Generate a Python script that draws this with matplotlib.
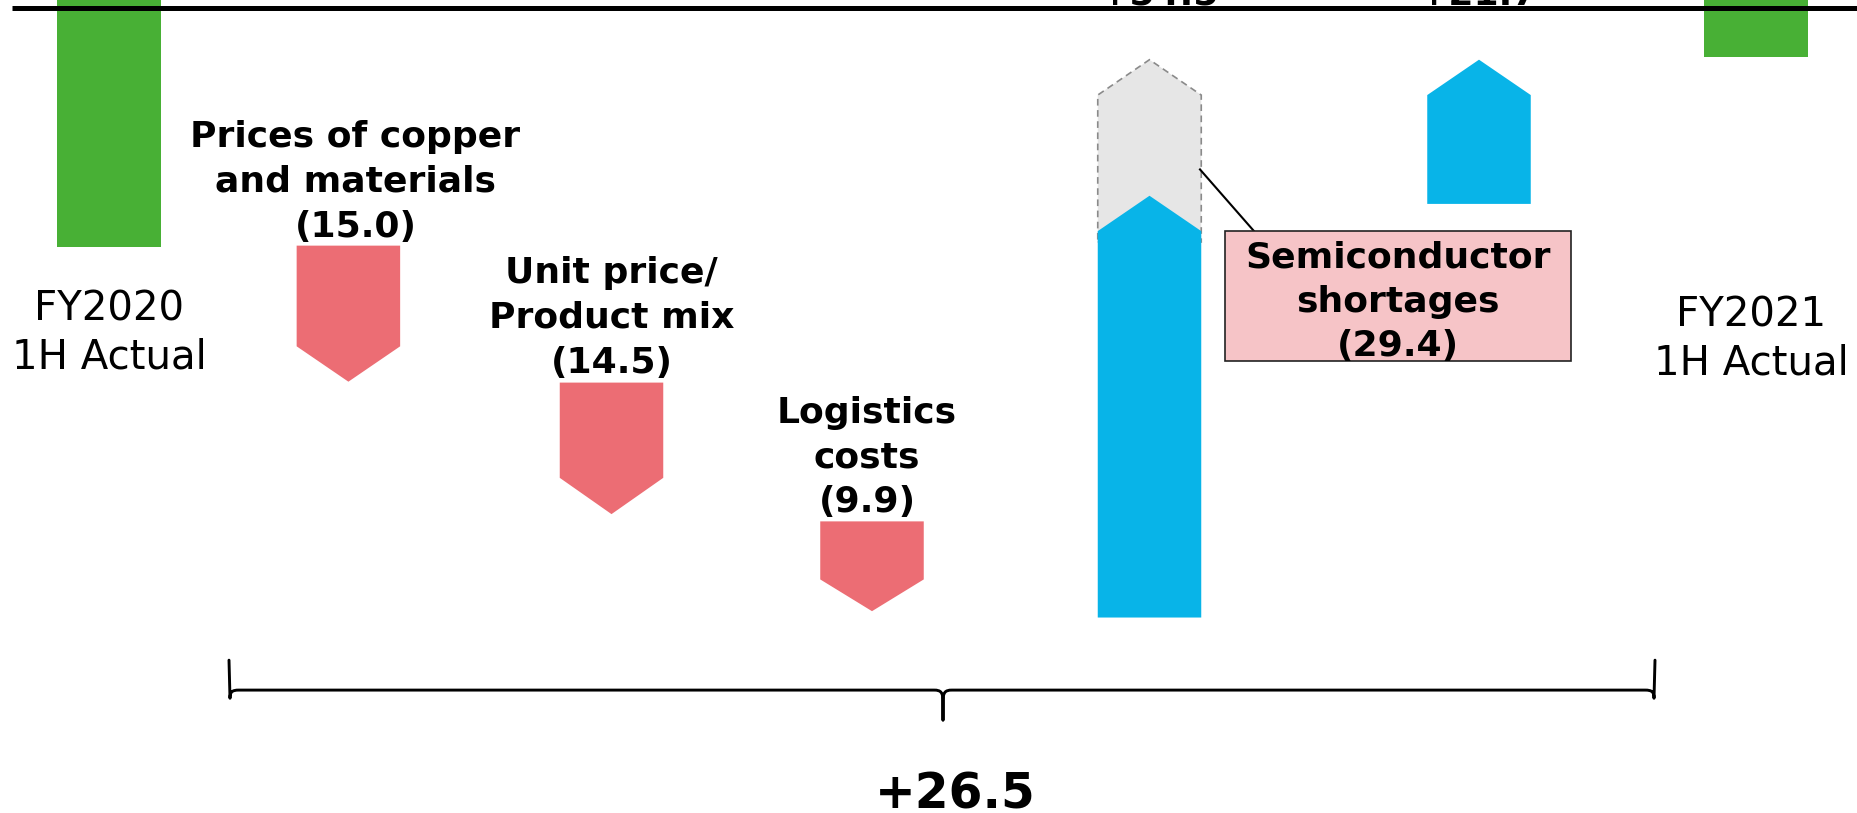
import matplotlib
matplotlib.use("Agg")
import matplotlib.pyplot as plt
from matplotlib.patches import Polygon, Rectangle, PathPatch
from matplotlib.path import Path

# ---------------- data (chart units; chart is schematic, not to scale) -------------
start_label = ["FY2020", "1H Actual"]
end_label = ["FY2021", "1H Actual"]
start_bar_bottom = 40.8          # FY2020 bar bottom level (bar runs off the top)
end_bar_bottom = 61.8            # FY2021 bar bottom level

decrease_labels = [["Prices of copper", "and materials"],
                   ["Unit price/", "Product mix"],
                   ["Logistics", "costs"]]
decrease_values = [15.0, 14.5, 9.9]
decrease_starts = [41.0, 25.9, 10.6]

increase_texts = ["+54.5", "+21.7"]    # labels clipped at the top of the slide
increase_bottoms = [0.0, 45.6]
increase_tips = [46.5, 61.5]

shortage_label = ["Semiconductor", "shortages"]
shortage_value = 29.4
shortage_tip = 61.5

total_change = 26.5

# ---------------- style / layout ----------------
GREEN = "#48B035"
RED = "#EC6D74"
BLUE = "#08B4E8"
GHOST = "#E6E6E6"
PINK = "#F6C4C7"

x_pos = [1.09, 3.484, 6.115, 8.72, 11.495, 14.79, 17.56]
W = 1.035
HEAD_DOWN = [3.9, 4.0, 3.5]
HEAD_UP = 3.9
TOP = 67.2

fig = plt.figure(figsize=(18.58, 8.13), dpi=100)
ax = fig.add_axes([0, 0, 1, 1])
ax.set_xlim(0, 18.58)
ax.set_ylim(-21.55, 68.08)
ax.axis("off")


def arrow_poly(xc, start, end, head):
    sgn = 1 if end > start else -1
    shoulder = end - sgn * head
    return [(xc - W / 2, start), (xc + W / 2, start), (xc + W / 2, shoulder),
            (xc, end), (xc - W / 2, shoulder)]


def multiline(x, y0, lines, dy, **kw):
    for i, s in enumerate(lines):
        ax.text(x, y0 - i * dy, s, ha="center", va="baseline", **kw)


# green start / end bars (run off the top)
ax.bar([x_pos[0], x_pos[6]], [70 - start_bar_bottom, 70 - end_bar_bottom],
       bottom=[start_bar_bottom, end_bar_bottom], width=W, color=GREEN, zorder=2)

# red decrease arrows
for i, (s, v) in enumerate(zip(decrease_starts, decrease_values)):
    ax.add_patch(Polygon(arrow_poly(x_pos[1 + i], s, s - v, HEAD_DOWN[i]),
                         closed=True, facecolor=RED, edgecolor="none", zorder=2))

# ghost (lost by semiconductor shortages)
ghost_base = increase_tips[0] - HEAD_UP - 1.2
ax.add_patch(Polygon(arrow_poly(x_pos[4], ghost_base, shortage_tip, HEAD_UP),
                     closed=True, facecolor=GHOST, edgecolor="#8A8A8A",
                     linewidth=1.2, linestyle=(0, (4, 2.7)), zorder=1))

# blue increase arrows
for i in range(2):
    ax.add_patch(Polygon(arrow_poly(x_pos[4 + i], increase_bottoms[i], increase_tips[i], HEAD_UP),
                         closed=True, facecolor=BLUE, edgecolor="none", zorder=2))

# clipped labels above the top rule
for i in range(2):
    ax.text(x_pos[4 + i] + (0.09 if i == 0 else -0.01), 67.56, increase_texts[i],
            ha="center", va="baseline", fontsize=26, fontweight="bold", zorder=5)

# top rule
ax.plot([0.12, 18.58], [TOP, TOP], color="black", lw=3.6, solid_capstyle="butt", zorder=6)

# labels
multiline(1.09, 32.7, start_label, 5.3, fontsize=29)
multiline(17.51, 32.1, end_label, 5.3, fontsize=29)

lab_x = [3.555, 6.115, 8.67]
lab_y = [51.9, 36.9, 21.5]
for i in range(3):
    multiline(lab_x[i], lab_y[i],
              decrease_labels[i] + [f"({decrease_values[i]:.1f})"], 4.96,
              fontsize=26, fontweight="bold", zorder=4)

# semiconductor callout
ax.plot([12.0, 12.54], [49.4, 42.6], color="black", lw=1.5, zorder=3)
ax.add_patch(Rectangle((12.25, 28.3), 3.46, 14.3, facecolor=PINK,
                       edgecolor="#222222", linewidth=1.2, zorder=3))
multiline(13.98, 38.6, shortage_label + [f"({shortage_value:.1f})"], 4.9,
          fontsize=26, fontweight="bold", zorder=4)

# brace
xl, xr, xm = 2.29, 16.55, 9.43
yt, yh, ytip = -4.7, -8.0, -11.3
verts = [(xl, yt), (xl + 0.01, yh - 0.9),
         (xl + 0.01, yh - 0.2), (xl + 0.03, yh), (xl + 0.1, yh),
         (xm - 0.09, yh),
         (xm - 0.02, yh), (xm, yh - 0.25), (xm, yh - 1.3),
         (xm, ytip)]
codes = [Path.MOVETO, Path.LINETO,
         Path.CURVE4, Path.CURVE4, Path.CURVE4,
         Path.LINETO,
         Path.CURVE4, Path.CURVE4, Path.CURVE4,
         Path.LINETO]
verts_r = [(xr, yt), (xr - 0.01, yh - 0.9),
           (xr - 0.01, yh - 0.2), (xr - 0.03, yh), (xr - 0.1, yh),
           (xm + 0.09, yh),
           (xm + 0.02, yh), (xm, yh - 0.25), (xm, yh - 1.3),
           (xm, ytip)]
path = Path(verts + verts_r, codes + codes)
ax.add_patch(PathPatch(path, facecolor="none", edgecolor="black", lw=2.1,
                       capstyle="round", joinstyle="round"))

ax.text(9.55, -21.05, f"+{total_change:.1f}", ha="center", va="baseline",
        fontsize=35, fontweight="bold")

fig.savefig("out.png", dpi=100)
